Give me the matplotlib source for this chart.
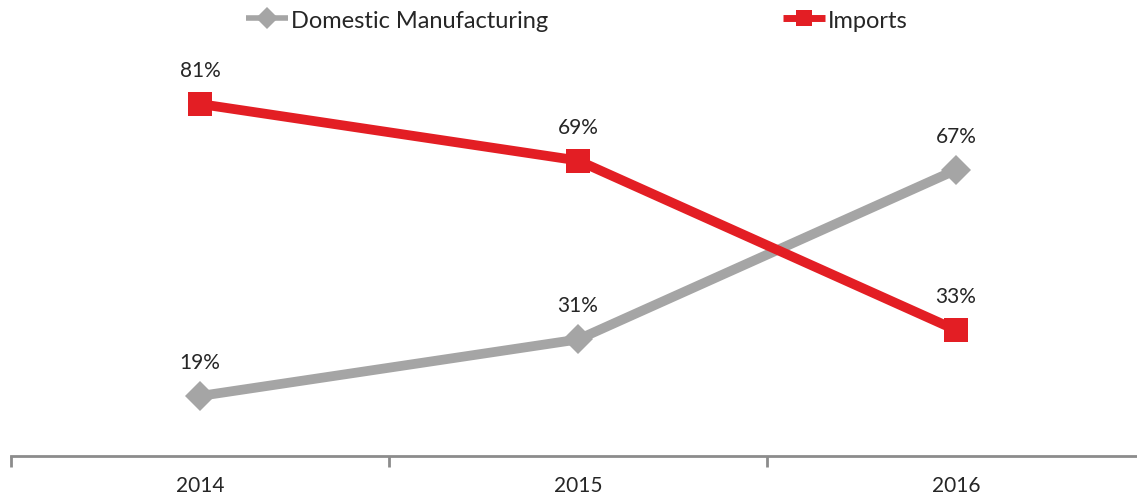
import matplotlib
matplotlib.use("Agg")
import matplotlib.pyplot as plt
from matplotlib.lines import Line2D
from matplotlib.ticker import FixedLocator

plt.rcParams['font.family'] = ['Lato', 'DejaVu Sans']

years = ["2014", "2015", "2016"]
domestic = [0.19, 0.31, 0.67]
imports = [0.81, 0.69, 0.33]

GRAY = "#A5A5A5"
RED = "#E31E24"
TEXT = "#262626"

fig = plt.figure(figsize=(11.37, 5.02), dpi=100)
ax = fig.add_axes([11 / 1137, 45 / 502, 1134 / 1137, 394.4 / 502])

x = list(range(len(years)))
ax.plot(x, domestic, color=GRAY, lw=7, marker="D", markersize=15,
        markeredgewidth=0, solid_capstyle="butt")
ax.plot(x, imports, color=RED, lw=7, marker="s", markersize=17,
        markeredgewidth=0, solid_capstyle="butt")

for xi, v in zip(x, domestic):
    ax.annotate(f"{v*100:.0f}%", (xi, v), xytext=(0, 34), textcoords="offset pixels",
                ha="center", va="center", fontsize=15, color=TEXT)
for xi, v in zip(x, imports):
    ax.annotate(f"{v*100:.0f}%", (xi, v), xytext=(0, 34), textcoords="offset pixels",
                ha="center", va="center", fontsize=15, color=TEXT)

ax.set_xlim(-0.5, len(years) - 0.5)
ax.set_ylim(0.0626, 0.9)

for side in ("left", "right", "top"):
    ax.spines[side].set_visible(False)
ax.spines["bottom"].set_color("#8C8C8C")
ax.spines["bottom"].set_linewidth(2)

ax.set_yticks([])
ax.set_xticks(x)
ax.set_xticklabels(years, fontsize=15, color=TEXT)
ax.tick_params(axis="x", which="major", length=0, pad=14)
ax.xaxis.set_minor_locator(FixedLocator([-0.5, 0.5, 1.5, 2.5]))
ax.tick_params(axis="x", which="minor", length=8, width=2, color="#8C8C8C", direction="out")

# legend keys: thinner line with a smaller marker
handles = [
    Line2D([], [], color=GRAY, lw=4, marker="D", markersize=11, markeredgewidth=0,
           solid_capstyle="butt"),
    Line2D([], [], color=RED, lw=5, marker="s", markersize=12, markeredgewidth=0,
           solid_capstyle="butt"),
]
labels = ["Domestic Manufacturing", "Imports"]
leg = fig.legend(handles, labels, loc="center",
                 bbox_to_anchor=(0.5 + 8 / 1137, 1 - 21 / 502), ncol=2,
                 frameon=False, fontsize=17, handlelength=1.8, handletextpad=0.1,
                 columnspacing=9.95)
for t in leg.get_texts():
    t.set_color(TEXT)

fig.savefig("out.png", dpi=100)
